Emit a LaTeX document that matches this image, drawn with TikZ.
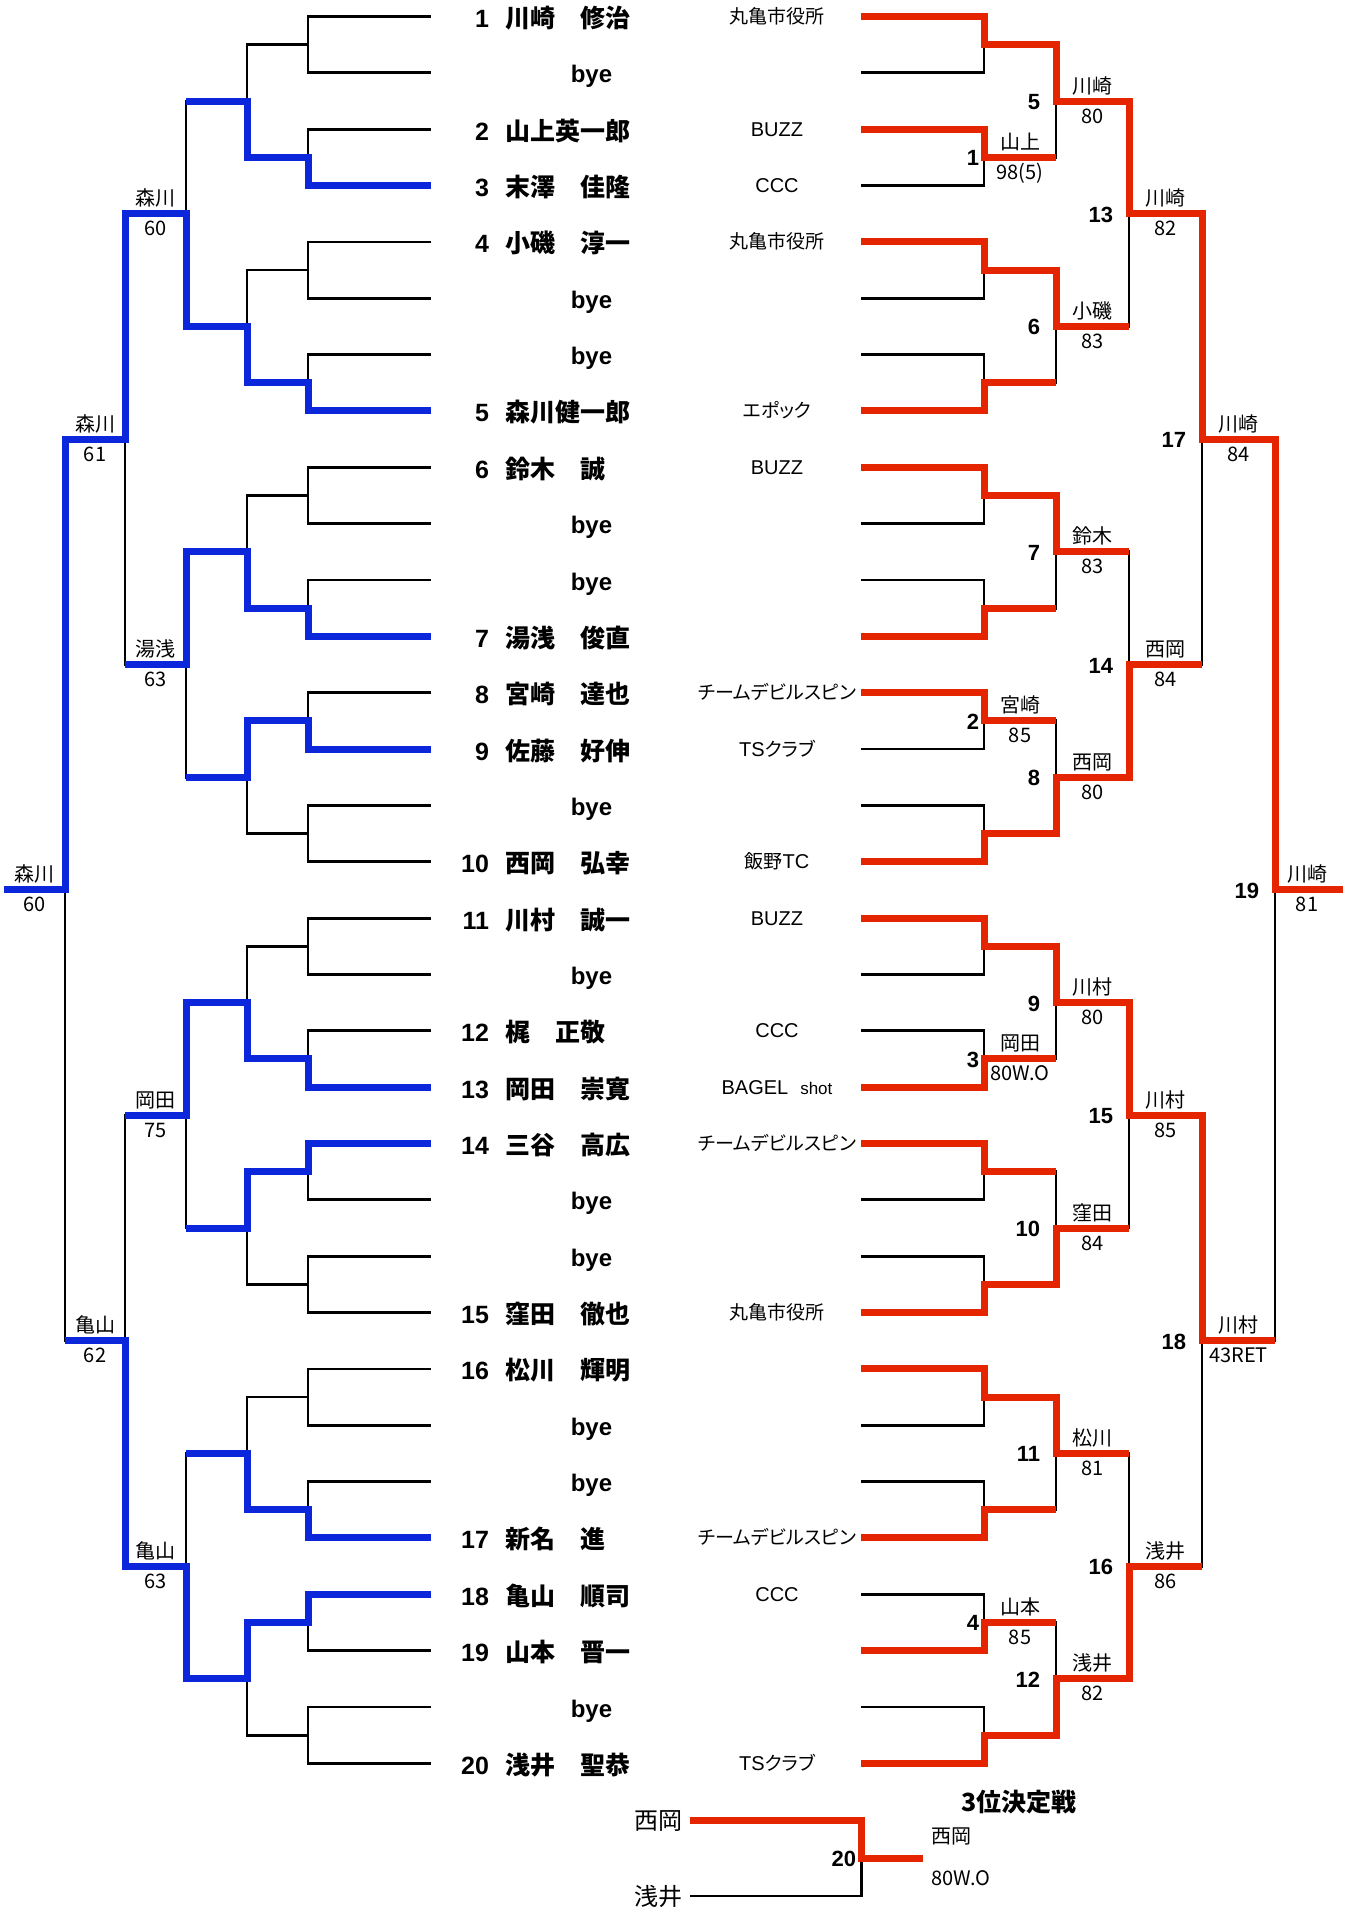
\documentclass[tikz,border=0pt]{standalone}
\usepackage{fontspec}
\newfontfamily\jp{Noto Sans CJK JP}
\newfontfamily\jpp{Noto Sans CJK JP}[RawFeature=+palt]
\newfontfamily\ls{Liberation Sans}
\definecolor{wblue}{RGB}{12,38,220}
\definecolor{wred}{RGB}{229,37,0}
\newcommand\cjc[1]{{\jpp\fontsize{19}{22}\selectfont #1}}
\newcommand\clubl[1]{{\ls\fontsize{20}{22}\selectfont #1}}
\begin{document}
\begin{tikzpicture}[x=1pt,y=-1pt,
  declare function={ry(\i)=16.5+56.35*(\i);},
  bk/.style={line width=2.8pt,line join=miter,black},
  bl/.style={line width=7pt,color=wblue,line join=miter},
  rd/.style={line width=7pt,color=wred,line join=miter},
  txt/.style={inner sep=0pt,outer sep=0pt},
  seed/.style={txt,anchor=base east,font=\ls\bfseries\fontsize{25}{28}\selectfont},
  pname/.style={txt,anchor=base west,font=\jp\bfseries\fontsize{25}{28}\selectfont},
  byetxt/.style={txt,anchor=base,font=\ls\bfseries\fontsize{24}{26}\selectfont},
  club/.style={txt,anchor=base},
  lab/.style={txt,anchor=base,font=\jp\fontsize{20}{22}\selectfont},
  mnum/.style={txt,anchor=base east,font=\ls\bfseries\fontsize{22}{24}\selectfont},
]
\fill[white] (0,0) rectangle (1345,1908);
\useasboundingbox (0,0) rectangle (1345,1908);

% ---------- black bracket structure, both sides ----------
\foreach \Xa/\Xb/\Xc/\Xd/\Xe/\Xf/\Xg in {431/308/247/186/125/65/4, 861/984/1056/1129/1202/1275/1343} {
  \foreach \k in {0,...,15}
    \draw[bk] (\Xa,{ry(2*\k)}) -- (\Xb,{ry(2*\k)}) -- (\Xb,{ry(2*\k+1)}) -- (\Xa,{ry(2*\k+1)});
  \foreach \k in {0,...,7}
    \draw[bk] (\Xb,{ry(4*\k+0.5)}) -- (\Xc,{ry(4*\k+0.5)}) -- (\Xc,{ry(4*\k+2.5)}) -- (\Xb,{ry(4*\k+2.5)});
  \foreach \k in {0,...,3}
    \draw[bk] (\Xc,{ry(8*\k+1.5)}) -- (\Xd,{ry(8*\k+1.5)}) -- (\Xd,{ry(8*\k+5.5)}) -- (\Xc,{ry(8*\k+5.5)});
  \foreach \k in {0,1}
    \draw[bk] (\Xd,{ry(16*\k+3.5)}) -- (\Xe,{ry(16*\k+3.5)}) -- (\Xe,{ry(16*\k+11.5)}) -- (\Xd,{ry(16*\k+11.5)});
  \draw[bk] (\Xe,{ry(7.5)}) -- (\Xf,{ry(7.5)}) -- (\Xf,{ry(23.5)}) -- (\Xe,{ry(23.5)});
  \draw[bk] (\Xf,{ry(15.5)}) -- (\Xg,{ry(15.5)});
}

% ---------- blue winner paths (left) ----------
\draw[bl] (431,{ry(3)}) -- (308,{ry(3)}) |- (247,{ry(2.5)}) |- (186,{ry(1.5)});
\draw[bl] (431,{ry(7)}) -- (308,{ry(7)}) |- (247,{ry(6.5)}) |- (186,{ry(5.5)}) |- (125,{ry(3.5)}) |- (65,{ry(7.5)}) |- (4,{ry(15.5)});
\draw[bl] (431,{ry(11)}) -- (308,{ry(11)}) |- (247,{ry(10.5)}) |- (186,{ry(9.5)}) |- (125,{ry(11.5)});
\draw[bl] (431,{ry(13)}) -- (308,{ry(13)}) |- (247,{ry(12.5)}) |- (186,{ry(13.5)});
\draw[bl] (431,{ry(19)}) -- (308,{ry(19)}) |- (247,{ry(18.5)}) |- (186,{ry(17.5)}) |- (125,{ry(19.5)});
\draw[bl] (431,{ry(20)}) -- (308,{ry(20)}) |- (247,{ry(20.5)}) |- (186,{ry(21.5)});
\draw[bl] (431,{ry(27)}) -- (308,{ry(27)}) |- (247,{ry(26.5)}) |- (186,{ry(25.5)});
\draw[bl] (431,{ry(28)}) -- (308,{ry(28)}) |- (247,{ry(28.5)}) |- (186,{ry(29.5)}) |- (125,{ry(27.5)}) |- (65,{ry(23.5)});

% ---------- red winner paths (right) ----------
\draw[rd] (861,{ry(0)}) -- (984,{ry(0)}) |- (1056,{ry(0.5)}) |- (1129,{ry(1.5)}) |- (1202,{ry(3.5)}) |- (1275,{ry(7.5)}) |- (1343,{ry(15.5)});
\draw[rd] (861,{ry(2)}) -- (984,{ry(2)}) |- (1056,{ry(2.5)});
\draw[rd] (861,{ry(4)}) -- (984,{ry(4)}) |- (1056,{ry(4.5)}) |- (1129,{ry(5.5)});
\draw[rd] (861,{ry(7)}) -- (984,{ry(7)}) |- (1056,{ry(6.5)});
\draw[rd] (861,{ry(8)}) -- (984,{ry(8)}) |- (1056,{ry(8.5)}) |- (1129,{ry(9.5)});
\draw[rd] (861,{ry(11)}) -- (984,{ry(11)}) |- (1056,{ry(10.5)});
\draw[rd] (861,{ry(12)}) -- (984,{ry(12)}) |- (1056,{ry(12.5)});
\draw[rd] (861,{ry(15)}) -- (984,{ry(15)}) |- (1056,{ry(14.5)}) |- (1129,{ry(13.5)}) |- (1202,{ry(11.5)});
\draw[rd] (861,{ry(16)}) -- (984,{ry(16)}) |- (1056,{ry(16.5)}) |- (1129,{ry(17.5)}) |- (1202,{ry(19.5)}) |- (1275,{ry(23.5)});
\draw[rd] (861,{ry(19)}) -- (984,{ry(19)}) |- (1056,{ry(18.5)});
\draw[rd] (861,{ry(20)}) -- (984,{ry(20)}) |- (1056,{ry(20.5)});
\draw[rd] (861,{ry(23)}) -- (984,{ry(23)}) |- (1056,{ry(22.5)}) |- (1129,{ry(21.5)});
\draw[rd] (861,{ry(24)}) -- (984,{ry(24)}) |- (1056,{ry(24.5)}) |- (1129,{ry(25.5)});
\draw[rd] (861,{ry(27)}) -- (984,{ry(27)}) |- (1056,{ry(26.5)});
\draw[rd] (861,{ry(29)}) -- (984,{ry(29)}) |- (1056,{ry(28.5)});
\draw[rd] (861,{ry(31)}) -- (984,{ry(31)}) |- (1056,{ry(30.5)}) |- (1129,{ry(29.5)}) |- (1202,{ry(27.5)});

% ---------- third place match ----------
\draw[bk] (690,1896) -- (861.5,1896) -- (861.5,1820);
\draw[rd] (690,1820) -- (861.5,1820) |- (923,1858);

% ---------- player column ----------
\foreach \r/\s/\n in {0/1/川崎　修治, 2/2/山上英一郎, 3/3/末澤　佳隆, 4/4/小磯　淳一, 7/5/森川健一郎, 8/6/鈴木　誠, 11/7/湯浅　俊直, 12/8/宮崎　達也, 13/9/佐藤　好伸, 15/10/西岡　弘幸, 16/11/川村　誠一, 18/12/梶　正敬, 19/13/岡田　崇寛, 20/14/三谷　高広, 23/15/窪田　徹也, 24/16/松川　輝明, 27/17/新名　進, 28/18/亀山　順司, 29/19/山本　晋一, 31/20/浅井　聖恭} {
  \node[seed] (s\s) at (489,{ry(\r)+11}) {\s};
  \node[pname] (p\s) at (505,{ry(\r)+11}) {\n};
}
\foreach \r in {1,5,6,9,10,14,17,21,22,25,26,30}
  \node[byetxt] (bye\r) at (591.5,{ry(\r)+10}) {bye};

% ---------- club column ----------
\node[club] (c0) at (777,{ry(0)+7}) {\cjc{丸亀市役所}};
\node[club] (c2) at (777,{ry(2)+7}) {\clubl{BUZZ}};
\node[club] (c3) at (777,{ry(3)+7}) {\clubl{CCC}};
\node[club] (c4) at (777,{ry(4)+7}) {\cjc{丸亀市役所}};
\node[club] (c7) at (777,{ry(7)+7}) {\cjc{エポック}};
\node[club] (c8) at (777,{ry(8)+7}) {\clubl{BUZZ}};
\node[club] (c12) at (777,{ry(12)+7}) {\cjc{チームデビルスピン}};
\node[club] (c13) at (777,{ry(13)+7}) {\clubl{TS}\cjc{クラブ}};
\node[club] (c15) at (777,{ry(15)+7}) {\cjc{飯野}\clubl{TC}};
\node[club] (c16) at (777,{ry(16)+7}) {\clubl{BUZZ}};
\node[club] (c18) at (777,{ry(18)+7}) {\clubl{CCC}};
\node[club] (c19) at (777,{ry(19)+7}) {\clubl{BAGEL}\hspace{12pt}{\ls\fontsize{17}{20}\selectfont shot}};
\node[club] (c20) at (777,{ry(20)+7}) {\cjc{チームデビルスピン}};
\node[club] (c23) at (777,{ry(23)+7}) {\cjc{丸亀市役所}};
\node[club] (c27) at (777,{ry(27)+7}) {\cjc{チームデビルスピン}};
\node[club] (c28) at (777,{ry(28)+7}) {\clubl{CCC}};
\node[club] (c31) at (777,{ry(31)+7}) {\clubl{TS}\cjc{クラブ}};

% ---------- match numbers ----------
\foreach \t/\x/\r in {1/979/2.5, 2/979/12.5, 3/979/18.5, 4/979/28.5, 5/1040/1.5, 6/1040/5.5, 7/1040/9.5, 8/1040/13.5, 9/1040/17.5, 10/1040/21.5, 11/1040/25.5, 12/1040/29.5, 13/1113/3.5, 14/1113/11.5, 15/1113/19.5, 16/1113/27.5, 17/1186/7.5, 18/1186/23.5, 19/1259/15.5}
  \node[mnum] (m\t) at (\x,{ry(\r)+8.5}) {\t};
\node[mnum] (m20) at (856,1866.5) {20};

% ---------- result labels ----------
\foreach \x/\r/\n/\s [count=\c] in {1020/2.5/山上/{98(5)}, 1020/12.5/宮崎/85, 1020/18.5/岡田/80W.O, 1020/28.5/山本/85, 1092.5/1.5/川崎/80, 1092.5/5.5/小磯/83, 1092.5/9.5/鈴木/83, 1092.5/13.5/西岡/80, 1092.5/17.5/川村/80, 1092.5/21.5/窪田/84, 1092.5/25.5/松川/81, 1092.5/29.5/浅井/82, 1165.5/3.5/川崎/82, 1165.5/11.5/西岡/84, 1165.5/19.5/川村/85, 1165.5/27.5/浅井/86, 1238.5/7.5/川崎/84, 1238.5/23.5/川村/43RET, 1307/15.5/川崎/81, 155.5/3.5/森川/60, 155.5/11.5/湯浅/63, 155.5/19.5/岡田/75, 155.5/27.5/亀山/63, 95/7.5/森川/61, 95/23.5/亀山/62, 34.5/15.5/森川/60} {
  \node[lab] (ln\c) at (\x,{ry(\r)-8}) {\n};
  \node[lab] (ls\c) at (\x,{ry(\r)+22}) {\s};
}

% ---------- third place texts ----------
\node[txt,anchor=base,font=\jp\bfseries\fontsize{25}{28}\selectfont] (t3) at (1019,1811) {3位決定戦};
\node[lab,anchor=base west] (t3n) at (931,1843) {西岡};
\node[lab,anchor=base west] (t3s) at (931,1885) {80W.O};
\node[txt,anchor=base east,font=\jp\fontsize{24}{26}\selectfont] (t3a) at (682,1829) {西岡};
\node[txt,anchor=base east,font=\jp\fontsize{24}{26}\selectfont] (t3b) at (682,1905) {浅井};
\end{tikzpicture}
\end{document}
